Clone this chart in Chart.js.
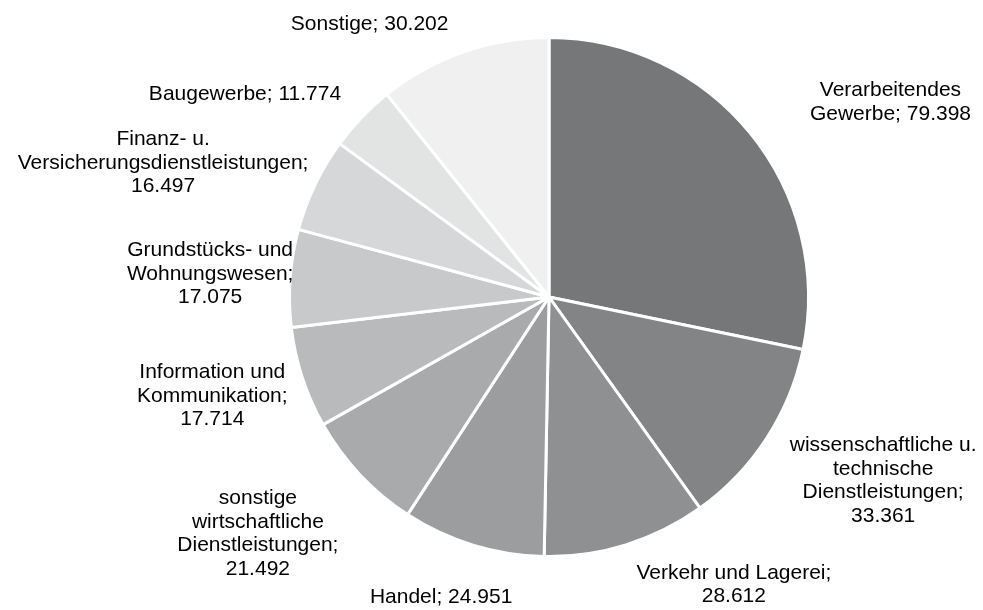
<!DOCTYPE html>
<html>
<head>
<title>Pie chart</title>
<script src="https://cdn.jsdelivr.net/npm/chart.js@4.4.1/dist/chart.umd.min.js"></script>
<style>
  body { margin: 0; background: #fff; }
</style>
</head>
<body>

<div style="position:relative;width:983px;height:610px;">
	<canvas id="myChart"></canvas>
</div>

<script>
// data
var labels = [
    ["Verarbeitendes", "Gewerbe; 79.398"],
    ["wissenschaftliche u.", "technische", "Dienstleistungen;", "33.361"],
    ["Verkehr und Lagerei;", "28.612"],
    ["Handel; 24.951"],
    ["sonstige", "wirtschaftliche", "Dienstleistungen;", "21.492"],
    ["Information und", "Kommunikation;", "17.714"],
    ["Grundstücks- und", "Wohnungswesen;", "17.075"],
    ["Finanz- u.", "Versicherungsdienstleistungen;", "16.497"],
    ["Baugewerbe; 11.774"],
    ["Sonstige; 30.202"]
];
var values = [79.398, 33.361, 28.612, 24.951, 21.492, 17.714, 17.075, 16.497, 11.774, 30.202];

// styles
var sliceColors = ['#767779', '#838486', '#8f9092', '#9c9d9f', '#a9aaac', '#b9babc', '#c8c9ca', '#d6d7d8', '#e2e3e3', '#f0f0f0'];
// label placement tweaks (px), like excel's "best fit"
var labelNudge = [[70, -10], [30, 11], [76, 8], [-8, 31], [-36, 20], [-9, 4], [13, -1], [-12, -2], [-40, -8], [-64, -7]];
var fontSize = 21;
var lineH = 23.5;
var gap = 10;

var outsideLabels = {
    id: 'outsideLabels',
    afterDraw: function(chart) {
        var ctx = chart.ctx;
        var meta = chart.getDatasetMeta(0);
        ctx.save();
        ctx.font = fontSize + 'px "Liberation Sans", Arial, sans-serif';
        ctx.fillStyle = '#000';
        ctx.textAlign = 'center';
        ctx.textBaseline = 'middle';
        meta.data.forEach(function(arc, i) {
            var mid = (arc.startAngle + arc.endAngle) / 2;
            var dx = Math.cos(mid), dy = Math.sin(mid);
            var r = arc.outerRadius + gap;
            var ax = arc.x + dx * r;
            var ay = arc.y + dy * r;
            var lines = labels[i];
            var w = 0;
            lines.forEach(function(l) { w = Math.max(w, ctx.measureText(l).width); });
            var h = lines.length * lineH;
            var cx = ax + dx * w / 2 + labelNudge[i][0];
            var cy = ay + dy * h / 2 + labelNudge[i][1];
            lines.forEach(function(l, k) {
                ctx.fillText(l, cx, cy - h / 2 + lineH * (k + 0.5));
            });
        });
        ctx.restore();
    }
};

var ctx = document.getElementById('myChart').getContext('2d');
var chart = new Chart(ctx, {
    type: 'pie',
    data: {
        labels: labels.map(function(l) { return l.join(' '); }),
        datasets: [{
            data: values,
            backgroundColor: sliceColors,
            borderColor: '#ffffff',
            borderWidth: 3
        }]
    },
    options: {
        responsive: true,
        maintainAspectRatio: false,
        animation: false,
        layout: { padding: { left: 288, right: 173, top: 36, bottom: 52 } },
        plugins: {
            legend: { display: false },
            tooltip: { enabled: false }
        }
    },
    plugins: [outsideLabels]
});
</script>
</body>
</html>
